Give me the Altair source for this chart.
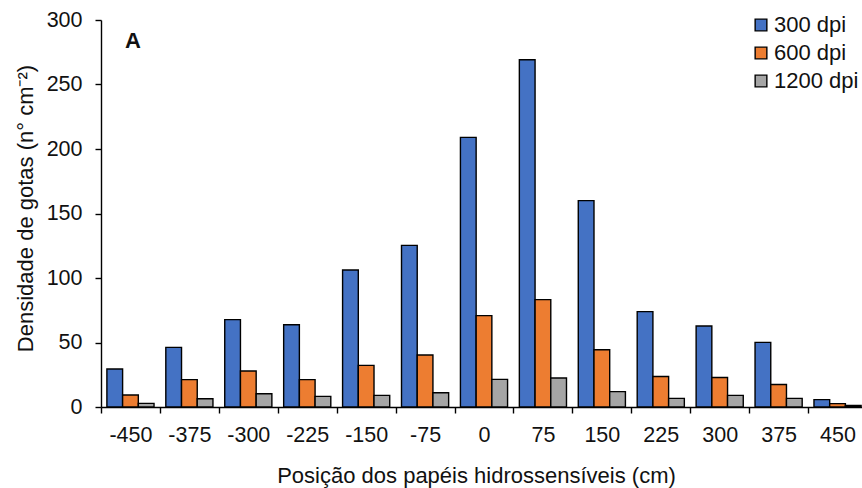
import altair as alt
import pandas as pd

# Positions of the water-sensitive papers (cm)
positions = [-450, -375, -300, -225, -150, -75, 0, 75, 150, 225, 300, 375, 450]

# Droplet density (n° cm-2) for each scan resolution
dens_300 = [29.5, 46.2, 67.7, 63.8, 106.2, 125.3, 209.0, 269.2, 160.0, 73.9, 62.8, 50.1, 5.7]
dens_600 = [9.3, 21.2, 27.9, 21.2, 32.3, 40.3, 70.8, 83.2, 44.4, 23.7, 22.9, 17.5, 2.6]
dens_1200 = [2.8, 6.4, 10.3, 8.2, 9.0, 11.1, 21.4, 22.5, 11.9, 6.7, 9.0, 6.7, 1.2]

series = ["300 dpi", "600 dpi", "1200 dpi"]
colors = ["#4472C4", "#ED7D31", "#A5A5A5"]
y_ticks = [0, 50, 100, 150, 200, 250, 300]

rows = []
for name, vals in zip(series, [dens_300, dens_600, dens_1200]):
    for p, v in zip(positions, vals):
        rows.append({"pos": p, "res": name, "dens": v})
df = pd.DataFrame(rows)

FONT = "Liberation Sans"
TXT = "#111111"

bars = alt.Chart(df).mark_bar(stroke="#000000", strokeWidth=1.4).encode(
    x=alt.X(
        "pos:O",
        sort=positions,
        scale=alt.Scale(paddingInner=0, paddingOuter=0, range=[0, 766]),
        axis=alt.Axis(
            title="Posição dos papéis hidrossensíveis (cm)",
            labelAngle=0,
            tickBand="extent",
            tickSize=6,
            labelPadding=28,
            labelBaseline="alphabetic",
            titleX=375,
            titleY=75,
            titleAlign="center",
            titleBaseline="alphabetic",
        ),
    ),
    xOffset=alt.XOffset(
        "res:N",
        sort=series,
        scale=alt.Scale(paddingInner=0, paddingOuter=0.375),
    ),
    y=alt.Y(
        "dens:Q",
        scale=alt.Scale(domain=[0, 300], nice=False),
        axis=alt.Axis(
            title="Densidade de gotas (n° cm⁻²)",
            values=y_ticks,
            grid=False,
            tickSize=6,
            labelPadding=13,
            titleAngle=270,
            titleX=-69,
            titleY=188,
            titleAlign="center",
            titleBaseline="alphabetic",
        ),
    ),
    color=alt.Color(
        "res:N",
        sort=series,
        scale=alt.Scale(domain=series, range=colors),
        legend=alt.Legend(
            title=None,
            orient="none",
            legendX=649,
            legendY=-6,
            symbolType="square",
            symbolSize=137,
            symbolStrokeColor="#000000",
            symbolStrokeWidth=1.4,
            symbolOpacity=1,
            labelOffset=2,
            rowPadding=6,
            padding=0,
        ),
    ),
)

panel = alt.Chart(pd.DataFrame({"label": ["A"]})).mark_text(
    font=FONT, fontSize=22, fontWeight="bold", color=TXT,
    align="left", baseline="alphabetic",
).encode(text="label:N", x=alt.value(24), y=alt.value(28))

chart = (
    alt.layer(bars, panel)
    .properties(
        width=761,
        height=387,
        autosize=alt.AutoSizeParams(type="none"),
        padding={"left": 101, "top": 20, "right": 0, "bottom": 81},
    )
    .configure_view(stroke=None)
    .configure_axis(
        labelFont=FONT,
        titleFont=FONT,
        labelFontSize=21.5,
        titleFontSize=22,
        labelColor=TXT,
        titleColor=TXT,
        titleFontWeight="normal",
        domainColor="#000000",
        tickColor="#000000",
        domainWidth=1.4,
        tickWidth=1.4,
    )
    .configure_legend(
        labelFont=FONT,
        labelFontSize=22,
        labelColor=TXT,
    )
)

chart.save("out.html", embed_options={"renderer": "svg", "actions": False})
